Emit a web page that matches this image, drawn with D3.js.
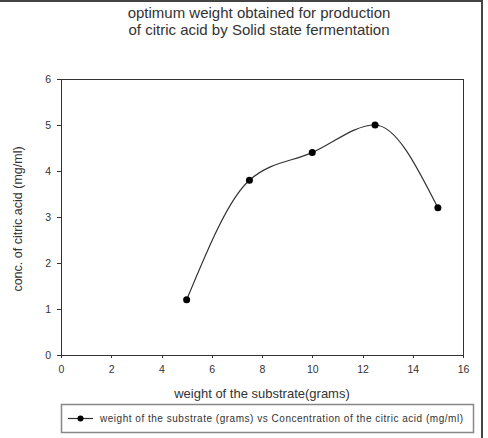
<!DOCTYPE html>
<html lang="en">
<head>
	<meta charset="utf-8">
	<title>Citric acid production</title>
	<script src="https://d3js.org/d3.v7.min.js"></script>
	<style type="text/css">
		body { margin: 0; background: #fff; }
		svg text { font-family: "Liberation Sans", Arial, sans-serif; }
		.axis path, .axis line { fill: none; stroke: #333; shape-rendering: crispEdges; }
		.axis text { font-size: 10.5px; fill: #333; }
	</style>
</head>
<body>
<script type="text/javascript">

	// Data
	var substrateWeight = [5, 7.5, 10, 12.5, 15];
	var citricConc = [1.2, 3.8, 4.4, 5.0, 3.2];
	var xTicks = [0, 2, 4, 6, 8, 10, 12, 14, 16];
	var yTicks = [0, 1, 2, 3, 4, 5, 6];
	var titleLines = ["optimum weight obtained for production", "of citric acid by Solid state fermentation"];
	var legendLabel = "weight of the substrate (grams) vs Concentration of the citric acid (mg/ml)";

	var width = 488, height = 438;
	var plot = {left: 61, right: 463, top: 79, bottom: 355};

	var svg = d3.select("body").append("svg")
		.attr("width", width)
		.attr("height", height);

	// outer frame (top and right edges only)
	svg.append("path")
		.attr("d", "M0,1 H482 V" + height)
		.attr("fill", "none")
		.attr("stroke", "#444")
		.attr("stroke-width", 2);

	// Scales
	var xScale = d3.scaleLinear().domain([0, 16]).range([plot.left, plot.right]);
	var yScale = d3.scaleLinear().domain([0, 6]).range([plot.bottom, plot.top]);

	// Axes
	svg.append("g")
		.attr("class", "axis")
		.attr("transform", "translate(0," + plot.bottom + ")")
		.call(d3.axisBottom(xScale).tickValues(xTicks).tickFormat(d3.format("d")).tickSize(3).tickPadding(6).tickSizeOuter(0))
		.selectAll("text").attr("dy", "0.9em");

	svg.append("g")
		.attr("class", "axis")
		.attr("transform", "translate(" + plot.left + ",0)")
		.call(d3.axisLeft(yScale).tickValues(yTicks).tickFormat(d3.format("d")).tickSize(4).tickPadding(6).tickSizeOuter(0));

	// box around plot area
	svg.append("rect")
		.attr("x", plot.left + 0.5)
		.attr("y", plot.top + 0.5)
		.attr("width", plot.right - plot.left)
		.attr("height", plot.bottom - plot.top)
		.attr("fill", "none")
		.attr("stroke", "#333")
		.attr("stroke-width", 1);

	// Curve
	var line = d3.line()
		.x(function(d, i) { return xScale(substrateWeight[i]); })
		.y(function(d) { return yScale(d); })
		.curve(d3.curveMonotoneX);

	svg.append("path")
		.datum(citricConc)
		.attr("d", line)
		.attr("fill", "none")
		.attr("stroke", "#333")
		.attr("stroke-width", 1.2);

	svg.selectAll("circle.pt")
		.data(citricConc)
		.enter()
		.append("circle")
		.attr("class", "pt")
		.attr("cx", function(d, i) { return xScale(substrateWeight[i]); })
		.attr("cy", function(d) { return yScale(d); })
		.attr("r", 3.5)
		.attr("fill", "#000");

	// Title
	svg.selectAll("text.title")
		.data(titleLines)
		.enter()
		.append("text")
		.attr("class", "title")
		.attr("x", 259)
		.attr("y", function(d, i) { return 18 + i * 17; })
		.attr("text-anchor", "middle")
		.attr("font-size", "15px")
		.attr("fill", "#333")
		.text(function(d) { return d; });

	// Axis labels
	svg.append("text")
		.attr("x", 262)
		.attr("y", 398)
		.attr("text-anchor", "middle")
		.attr("font-size", "13px")
		.attr("fill", "#333")
		.text("weight of the substrate(grams)");

	svg.append("text")
		.attr("transform", "translate(22,219) rotate(-90)")
		.attr("text-anchor", "middle")
		.attr("font-size", "12.5px")
		.attr("fill", "#333")
		.text("conc. of citric acid (mg/ml)");

	// Legend
	var legend = svg.append("g");
	legend.append("rect")
		.attr("x", 61.5).attr("y", 404.5)
		.attr("width", 412).attr("height", 28)
		.attr("fill", "#fff")
		.attr("stroke", "#888")
		.attr("stroke-width", 1.5);
	legend.append("line")
		.attr("x1", 68).attr("x2", 93)
		.attr("y1", 418.5).attr("y2", 418.5)
		.attr("stroke", "#333").attr("stroke-width", 1.2);
	legend.append("circle")
		.attr("cx", 80.5).attr("cy", 418.5).attr("r", 3)
		.attr("fill", "#000");
	legend.append("text")
		.attr("x", 100).attr("y", 422)
		.attr("font-size", "10px")
		.attr("fill", "#333")
		.attr("textLength", 363)
		.text(legendLabel);

</script>
</body>
</html>
